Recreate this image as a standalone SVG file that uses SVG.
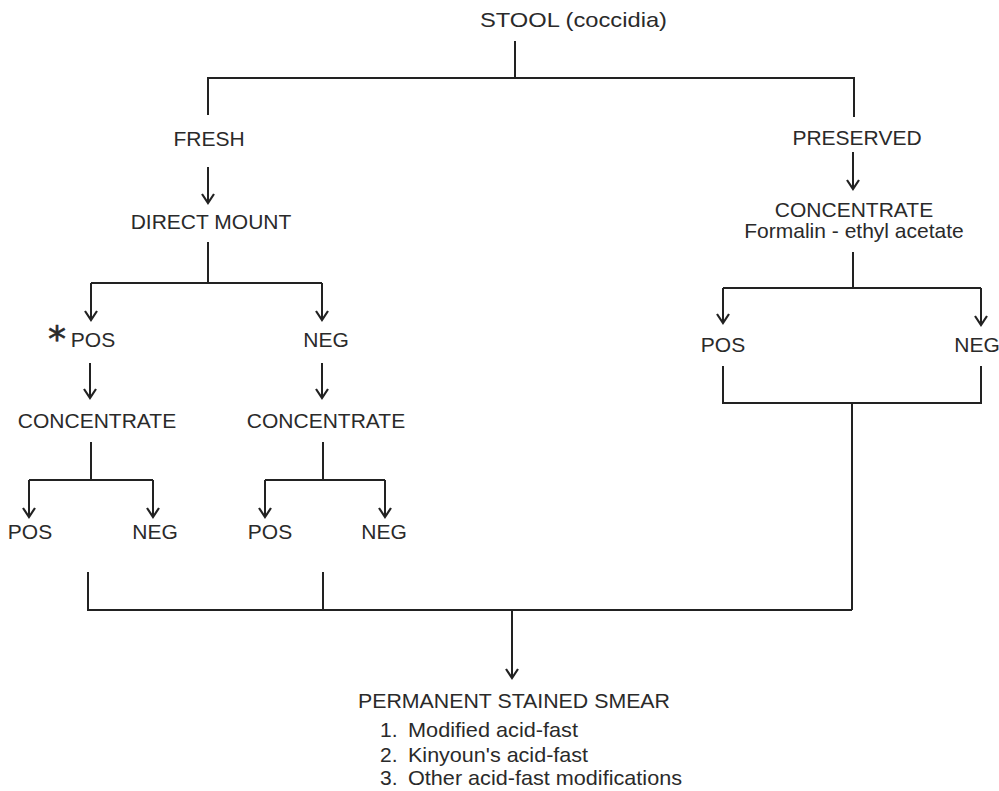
<svg xmlns="http://www.w3.org/2000/svg" width="999" height="791" viewBox="0 0 999 791">
<style>
text{font-family:"Liberation Sans",Arial,sans-serif;font-size:21px;fill:#2a2a2a}
.c{text-anchor:middle}
.star{font-family:"DejaVu Sans",sans-serif;font-size:36px}
.ln{fill:none;stroke:#222;stroke-width:2}
.ar{marker-end:url(#arrow)}
</style>
<defs>
<marker id="arrow" markerUnits="userSpaceOnUse" viewBox="-12 -8 14 16" refX="0" refY="0" markerWidth="14" markerHeight="16" orient="auto">
<path d="M-9,-6 L0,0 L-9,6" fill="none" stroke="#222" stroke-width="2.2"/>
</marker>
</defs>
<rect width="999" height="791" fill="#fff"/>
<g id="connectors">
<path class="ln" d="M515,41 V78"/>
<path class="ln" d="M208,115 V78 H854 V117"/>
<path class="ln ar" d="M208,167 V203"/>
<path class="ln" d="M208,242 V283"/>
<path class="ln" d="M91,283 H322"/>
<path class="ln ar" d="M91,283 V320"/>
<path class="ln ar" d="M322,283 V320"/>
<path class="ln ar" d="M90,363 V398"/>
<path class="ln ar" d="M322,363 V398"/>
<path class="ln" d="M91,442 V480"/>
<path class="ln" d="M29,480 H153"/>
<path class="ln ar" d="M29,480 V517"/>
<path class="ln ar" d="M153,480 V517"/>
<path class="ln" d="M323,442 V480"/>
<path class="ln" d="M265,480 H385"/>
<path class="ln ar" d="M265,480 V517"/>
<path class="ln ar" d="M385,480 V517"/>
<path class="ln ar" d="M853,152 V189"/>
<path class="ln" d="M853,252 V288"/>
<path class="ln" d="M723,288 H981"/>
<path class="ln ar" d="M723,288 V323"/>
<path class="ln ar" d="M981,288 V325"/>
<path class="ln" d="M723,366 V403 H981 V366"/>
<path class="ln" d="M852,403 V610"/>
<path class="ln" d="M88,572 V610 H852"/>
<path class="ln" d="M323,572 V610"/>
<path class="ln ar" d="M512,610 V678"/>
</g>
<g id="stool"><text x="480" y="27" font-size="23" textLength="187" lengthAdjust="spacingAndGlyphs">STOOL (coccidia)</text></g>
<g id="fresh"><text class="c" x="209" y="146">FRESH</text></g>
<g id="preserved"><text class="c" x="857" y="145">PRESERVED</text></g>
<g id="direct-mount"><text class="c" x="211" y="229">DIRECT MOUNT</text></g>
<g id="dm-pos"><text class="star" x="48" y="351" stroke="#2a2a2a" stroke-width="0.6">*</text><text class="c" x="93" y="347">POS</text></g>
<g id="dm-neg"><text class="c" x="326" y="347">NEG</text></g>
<g id="concentrate-pos"><text class="c" x="97" y="428">CONCENTRATE</text></g>
<g id="concentrate-neg"><text class="c" x="326" y="428">CONCENTRATE</text></g>
<g id="pos-a"><text class="c" x="30" y="539">POS</text></g>
<g id="neg-a"><text class="c" x="155" y="539">NEG</text></g>
<g id="pos-b"><text class="c" x="270" y="539">POS</text></g>
<g id="neg-b"><text class="c" x="384" y="539">NEG</text></g>
<g id="concentrate-preserved"><text class="c" x="854" y="217">CONCENTRATE</text><text class="c" x="854" y="238">Formalin - ethyl acetate</text></g>
<g id="pos-r"><text class="c" x="723" y="352">POS</text></g>
<g id="neg-r"><text class="c" x="977" y="352">NEG</text></g>
<g id="smear">
<text x="358" y="708" textLength="312" lengthAdjust="spacingAndGlyphs">PERMANENT STAINED SMEAR</text>
<text x="380" y="737">1.</text><text x="408" y="737" textLength="170" lengthAdjust="spacingAndGlyphs">Modified acid-fast</text>
<text x="380" y="762">2.</text><text x="408" y="762" textLength="180" lengthAdjust="spacingAndGlyphs">Kinyoun's acid-fast</text>
<text x="380" y="785">3.</text><text x="408" y="785" textLength="274" lengthAdjust="spacingAndGlyphs">Other acid-fast modifications</text>
</g>
</svg>
